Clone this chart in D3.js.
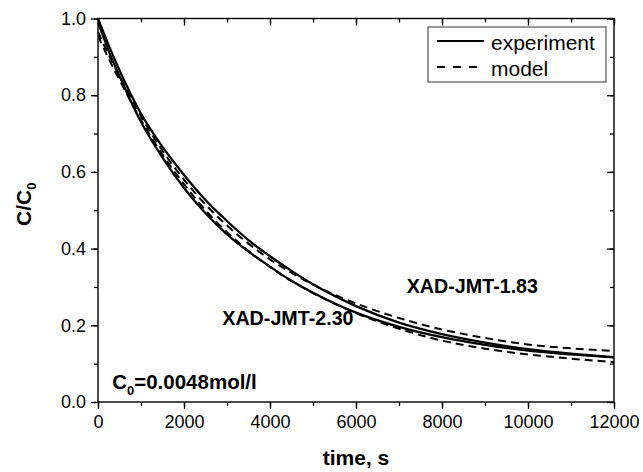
<!DOCTYPE html>
<html>
<head>
<meta charset="utf-8">
<script src="https://cdn.jsdelivr.net/npm/d3@7"></script>
<style>
  body { margin: 0; background: #fff; }
  svg { display: block; font-family: "Liberation Sans", Arial, sans-serif; }
</style>
</head>
<body>
<svg id="chart"></svg>
<script>
// time axis (s)
var times = [0, 250, 500, 1000, 1500, 2000, 2500, 3000, 3500, 4000, 4500, 5000, 6000, 7000, 8000, 9000, 10000, 11000, 12000];
// experiment curves
var exp183 = [1.0, 0.93, 0.865, 0.752, 0.665, 0.592, 0.527, 0.472, 0.422, 0.38, 0.342, 0.307, 0.25, 0.207, 0.177, 0.155, 0.138, 0.126, 0.117];
var exp230 = [0.99, 0.915, 0.85, 0.73, 0.637, 0.558, 0.492, 0.437, 0.392, 0.353, 0.316, 0.285, 0.233, 0.196, 0.169, 0.149, 0.134, 0.124, 0.116];
// model curves
var model183 = [0.965, 0.905, 0.85, 0.745, 0.655, 0.58, 0.515, 0.46, 0.413, 0.372, 0.337, 0.306, 0.257, 0.219, 0.189, 0.167, 0.15, 0.14, 0.133];
var model230 = [0.955, 0.895, 0.84, 0.735, 0.645, 0.568, 0.5, 0.443, 0.394, 0.352, 0.315, 0.284, 0.232, 0.191, 0.16, 0.139, 0.124, 0.113, 0.104];

var xTicks = [0, 2000, 4000, 6000, 8000, 10000, 12000];
var yTicks = [0.0, 0.2, 0.4, 0.6, 0.8, 1.0];
var legendLabels = ["experiment", "model"];

var W = 643, H = 472;
var margin = {top: 18.5, right: 29, bottom: 70, left: 98};
var width = W - margin.left - margin.right,
    height = H - margin.top - margin.bottom;

var svg = d3.select("#chart").attr("width", W).attr("height", H);
var g = svg.append("g").attr("transform", "translate(" + margin.left + "," + margin.top + ")");

var x = d3.scaleLinear().domain([0, 12000]).range([0, width]);
var y = d3.scaleLinear().domain([0, 1]).range([height, 0]);

var minorX = d3.range(0, 12001, 1000);
var minorY = d3.range(0, 1.0001, 0.1);

g.append("defs").append("clipPath").attr("id", "clip")
  .append("rect").attr("width", width).attr("height", height);

// curves
var line = d3.line().curve(d3.curveMonotoneX)
  .x(function(d) { return x(d[0]); })
  .y(function(d) { return y(d[1]); });

function series(vals) { return times.map(function(t, i) { return [t, vals[i]]; }); }

var plot = g.append("g").attr("clip-path", "url(#clip)");
[exp183, exp230].forEach(function(v) {
  plot.append("path").attr("d", line(series(v)))
    .attr("fill", "none").attr("stroke", "#000").attr("stroke-width", 2.2);
});
[model183, model230].forEach(function(v) {
  plot.append("path").attr("d", line(series(v)))
    .attr("fill", "none").attr("stroke", "#000").attr("stroke-width", 2)
    .attr("stroke-dasharray", "8,5");
});

// axes: bottom & left outward, top & right inward
function styleAxis(sel) {
  sel.select(".domain").remove();
  sel.selectAll("line").attr("stroke", "#000").attr("stroke-width", 1.3);
  sel.selectAll("text").attr("fill", "#000").style("font-size", "18px");
}

g.append("g").attr("transform", "translate(0," + height + ")")
  .call(d3.axisBottom(x).tickValues(minorX).tickSize(4).tickFormat(""))
  .call(styleAxis);
g.append("g").attr("transform", "translate(0," + height + ")")
  .call(d3.axisBottom(x).tickValues(xTicks).tickSize(7).tickPadding(6).tickFormat(d3.format("d")))
  .call(styleAxis);

g.append("g")
  .call(d3.axisLeft(y).tickValues(minorY).tickSize(4).tickFormat(""))
  .call(styleAxis);
g.append("g")
  .call(d3.axisLeft(y).tickValues(yTicks).tickSize(7).tickPadding(5).tickFormat(d3.format(".1f")))
  .call(styleAxis);

g.append("g")
  .call(d3.axisTop(x).tickValues(minorX).tickSize(-4).tickFormat(""))
  .call(styleAxis);
g.append("g")
  .call(d3.axisTop(x).tickValues(xTicks).tickSize(-7).tickFormat(""))
  .call(styleAxis);
g.append("g").attr("transform", "translate(" + width + ",0)")
  .call(d3.axisRight(y).tickValues(minorY).tickSize(-4).tickFormat(""))
  .call(styleAxis);
g.append("g").attr("transform", "translate(" + width + ",0)")
  .call(d3.axisRight(y).tickValues(yTicks).tickSize(-7).tickFormat(""))
  .call(styleAxis);

// frame
g.append("rect").attr("width", width).attr("height", height)
  .attr("fill", "none").attr("stroke", "#000").attr("stroke-width", 1.4);

// axis titles
g.append("text")
  .attr("x", width / 2).attr("y", height + 63)
  .attr("text-anchor", "middle")
  .style("font-size", "21px").style("font-weight", "bold")
  .text("time, s");

var yl = svg.append("text")
  .attr("transform", "translate(31," + (margin.top + height / 2 - 6) + ") rotate(-90)")
  .attr("text-anchor", "middle")
  .style("font-size", "21px").style("font-weight", "bold");
yl.append("tspan").text("C/C");
yl.append("tspan").attr("dy", 5).style("font-size", "13px").text("0");

// annotations
g.append("text")
  .attr("x", x(7180)).attr("y", y(0.285))
  .style("font-size", "19.7px").style("font-weight", "bold")
  .text("XAD-JMT-1.83");
g.append("text")
  .attr("x", x(2890)).attr("y", y(0.2))
  .style("font-size", "19.7px").style("font-weight", "bold")
  .text("XAD-JMT-2.30");

var c0 = g.append("text")
  .attr("x", x(330)).attr("y", y(0.034))
  .style("font-size", "20.5px").style("font-weight", "bold");
c0.append("tspan").text("C");
c0.append("tspan").attr("dy", 6).style("font-size", "13px").text("0");
c0.append("tspan").attr("dy", -6).text("=0.0048mol/l");

// legend
var lg = svg.append("g").attr("transform", "translate(428,27)");
lg.append("rect").attr("width", 178).attr("height", 55)
  .attr("fill", "#fff").attr("stroke", "#333").attr("stroke-width", 1);
legendLabels.forEach(function(lab, i) {
  var yy = 14 + i * 26;
  lg.append("line").attr("x1", 9).attr("x2", 56).attr("y1", yy).attr("y2", yy)
    .attr("stroke", "#000").attr("stroke-width", 2)
    .attr("stroke-dasharray", i == 1 ? "8,8" : null);
  lg.append("text").attr("x", 63).attr("y", yy + 9)
    .style("font-size", "21px").text(lab);
});
</script>
</body>
</html>
